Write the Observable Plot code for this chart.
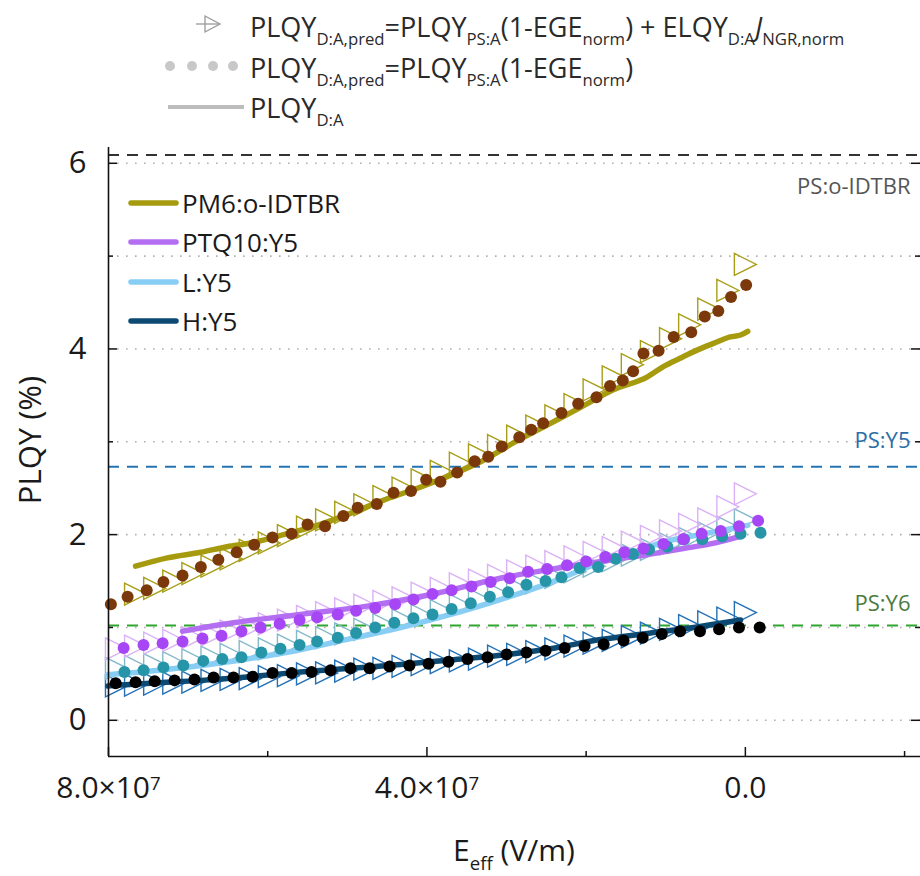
<!DOCTYPE html>
<html>
<head>
<meta charset="utf-8">
<script src="https://cdn.jsdelivr.net/npm/d3@7"></script>
<script src="https://cdn.jsdelivr.net/npm/@observablehq/plot@0.6"></script>
<style>
  body { margin: 0; background: #fff; }
  #chart { width: 920px; height: 876px; overflow: hidden; }
  svg { font-family: "Open Sans", sans-serif; }
</style>
</head>
<body>
<div id="chart"></div>
<script>
// ---- DATA (E_eff in units of 1e7 V/m, PLQY in %) ----
const xTickValues = [8, 4, 0];
const xTickLabels = ["8.0×10^7", "4.0×10^7", "0.0"];
const xMinorTicks = [6, 2, -2];
const yTickValues = [0, 2, 4, 6];
const yMinorTicks = [1, 3, 5];
const gridValues = [0, 1, 2, 3, 4, 5, 6];

const refNames = ["PS:o-IDTBR", "PS:Y5", "PS:Y6"];
const refValues = [6.09, 2.73, 1.02];

const seriesNames = ["PM6:o-IDTBR", "PTQ10:Y5", "L:Y5", "H:Y5"];

// PM6:o-IDTBR
const pm6LineE = [7.66,7.26,6.84,6.51,6.22,5.80,5.38,4.96,4.55,4.12,3.70,3.29,2.91,2.49,2.07,1.66,1.23,1.03,0.82,0.60,0.40,0.19,0.06,-0.03];
const pm6LineP = [1.66,1.75,1.81,1.87,1.91,2.00,2.10,2.23,2.37,2.50,2.64,2.80,2.99,3.18,3.37,3.56,3.70,3.81,3.90,3.99,4.06,4.13,4.15,4.19];
const pm6DotE = [7.97,7.76,7.52,7.31,7.07,6.84,6.62,6.39,6.17,5.94,5.70,5.50,5.28,5.05,4.87,4.63,4.42,4.20,4.01,3.83,3.62,3.40,3.23,3.06,2.84,2.69,2.54,2.31,2.10,1.87,1.70,1.54,1.41,1.28,1.09,0.90,0.68,0.51,0.34,0.18,-0.01];
const pm6DotP = [1.25,1.33,1.40,1.49,1.56,1.65,1.73,1.81,1.89,1.97,2.01,2.11,2.09,2.20,2.29,2.33,2.45,2.47,2.59,2.57,2.67,2.79,2.84,2.95,3.05,3.13,3.20,3.31,3.41,3.48,3.60,3.66,3.76,3.95,3.98,4.13,4.18,4.35,4.41,4.56,4.69];
const pm6TriE = [7.66,7.42,7.18,6.94,6.70,6.46,6.22,5.98,5.74,5.50,5.26,5.02,4.78,4.54,4.30,4.06,3.82,3.58,3.34,3.10,2.86,2.62,2.38,2.14,1.90,1.66,1.42,1.18,0.94,0.70,0.46,0.22,0.00];
const pm6TriP = [1.36,1.42,1.50,1.58,1.66,1.74,1.83,1.91,1.99,2.08,2.16,2.24,2.32,2.41,2.50,2.59,2.68,2.77,2.86,2.96,3.06,3.17,3.28,3.40,3.56,3.70,3.83,3.97,4.11,4.26,4.43,4.63,4.91];

// PTQ10:Y5
const ptqLineE = [7.07,6.43,5.59,4.75,3.92,3.08,2.49,1.82,1.19,0.78,0.44,0.03];
const ptqLineP = [0.96,1.05,1.14,1.23,1.36,1.53,1.62,1.71,1.79,1.85,1.90,1.99];
const ptqDotE = [7.81,7.56,7.32,7.07,6.82,6.58,6.33,6.09,5.85,5.60,5.38,5.12,4.89,4.65,4.40,4.17,3.93,3.69,3.44,3.20,2.96,2.73,2.49,2.24,2.00,1.76,1.52,1.28,1.03,0.78,0.55,0.31,0.08,-0.16];
const ptqDotP = [0.78,0.81,0.83,0.85,0.88,0.91,0.96,1.00,1.04,1.08,1.11,1.14,1.18,1.21,1.25,1.30,1.36,1.40,1.44,1.49,1.53,1.60,1.63,1.67,1.71,1.76,1.81,1.85,1.90,1.95,2.01,2.04,2.09,2.15];
const triE = [7.90,7.66,7.42,7.18,6.94,6.70,6.46,6.22,5.98,5.74,5.50,5.26,5.02,4.78,4.54,4.30,4.06,3.82,3.58,3.34,3.10,2.86,2.62,2.38,2.14,1.90,1.66,1.42,1.18,0.94,0.70,0.46,0.22,0.00];
const ptqTriP = [0.77,0.80,0.83,0.86,0.89,0.92,0.96,1.00,1.04,1.08,1.12,1.16,1.20,1.24,1.28,1.32,1.37,1.42,1.47,1.51,1.56,1.61,1.66,1.71,1.76,1.81,1.86,1.92,1.98,2.04,2.11,2.17,2.30,2.44];

// L:Y5
const lLineE = [8.01,7.47,6.84,6.34,5.59,4.96,4.33,3.70,3.08,2.49,1.82,1.44,1.03,0.57,-0.03];
const lLineP = [0.49,0.53,0.59,0.65,0.76,0.88,1.00,1.14,1.30,1.47,1.70,1.80,1.92,2.00,2.10];
const lDotE = [7.80,7.56,7.31,7.06,6.81,6.57,6.33,6.08,5.84,5.60,5.38,5.12,4.89,4.65,4.41,4.17,3.93,3.69,3.45,3.21,2.98,2.75,2.51,2.31,2.08,1.85,1.63,1.41,1.21,0.98,0.77,0.54,0.29,0.06,-0.19];
const lDotP = [0.52,0.54,0.57,0.59,0.64,0.66,0.68,0.73,0.77,0.81,0.85,0.89,0.94,1.00,1.05,1.10,1.14,1.20,1.26,1.33,1.38,1.46,1.50,1.54,1.64,1.65,1.74,1.79,1.84,1.87,1.95,1.95,1.98,2.01,2.02];
const lTriP = [0.56,0.58,0.60,0.62,0.65,0.68,0.71,0.74,0.77,0.81,0.85,0.89,0.93,0.98,1.03,1.08,1.13,1.18,1.24,1.30,1.36,1.42,1.48,1.54,1.60,1.66,1.72,1.78,1.84,1.90,1.96,2.02,2.08,2.16];

// H:Y5
const hLineE = [8.01,7.47,6.84,6.22,5.59,4.96,4.33,3.70,3.08,2.45,1.82,1.19,0.57,0.06];
const hLineP = [0.37,0.40,0.43,0.47,0.52,0.56,0.60,0.65,0.70,0.77,0.87,0.94,1.01,1.08];
const hDotE = [7.91,7.66,7.42,7.17,6.92,6.68,6.43,6.19,5.94,5.70,5.45,5.21,4.96,4.72,4.47,4.22,3.98,3.73,3.49,3.24,3.00,2.75,2.51,2.27,2.02,1.78,1.53,1.29,1.05,0.82,0.57,0.33,0.08,-0.18];
const hDotP = [0.40,0.41,0.42,0.43,0.44,0.46,0.46,0.47,0.51,0.51,0.52,0.54,0.56,0.56,0.58,0.59,0.61,0.63,0.66,0.68,0.71,0.73,0.75,0.78,0.80,0.82,0.86,0.89,0.93,0.96,0.96,0.98,1.00,1.00];
const hTriP = [0.37,0.38,0.39,0.40,0.41,0.43,0.44,0.45,0.47,0.48,0.50,0.51,0.53,0.55,0.56,0.58,0.60,0.62,0.64,0.66,0.69,0.71,0.74,0.77,0.80,0.83,0.86,0.90,0.94,0.98,1.02,1.06,1.10,1.16];

// ---- STYLES ----
const lineColors = ["#a69b0e", "#b36ef2", "#88cdf4", "#0c4a74"];
const dotColors = ["#7a380b", "#a646f4", "#2795a8", "#000000"];
const triColors = ["#a89e18", "#dcb2f6", "#84b9c9", "#2471b6"];
const refColors = ["#333333", "#2474b4", "#2fa62f"];
const refLabelColors = ["#555555", "#2b6ea6", "#4b7b3e"];
const refLabelDy = [32, -26, -22];

const W = 920, H = 876, mL = 108, mR = 0, mT = 147, mB = 120;
const frameW = W - mL - mR, frameH = H - mT - mB;

function pts(E, P) { return E.map((e, i) => ({E: e, P: P[i]})); }

const lineData = [pts(pm6LineE, pm6LineP), pts(ptqLineE, ptqLineP), pts(lLineE, lLineP), pts(hLineE, hLineP)];
const dotData = [pts(pm6DotE, pm6DotP), pts(ptqDotE, ptqDotP), pts(lDotE, lDotP), pts(hDotE, hDotP)];
const triData = [pts(pm6TriE, pm6TriP), pts(triE, ptqTriP), pts(triE, lTriP), pts(triE, hTriP)];
const refRows = refNames.map((n, i) => ({name: n, v: refValues[i]}));

const triSymbol = {
  draw(ctx, size) {
    const r = Math.sqrt(size / Math.PI);
    ctx.moveTo(-r, -r);
    ctx.lineTo(r, 0);
    ctx.lineTo(-r, r);
    ctx.closePath();
  }
};

const marks = [];
// dotted grid
marks.push(Plot.ruleY(gridValues, {y: d => d, stroke: "#b0b0b0", strokeWidth: 1.6, strokeDasharray: "1.6,7.4"}));
// reference dashed lines + labels
refRows.forEach((r, i) => {
  marks.push(Plot.ruleY([r], {y: "v", stroke: refColors[i], strokeWidth: 2, strokeDasharray: "11,8"}));
  marks.push(Plot.text([r], {y: "v", text: "name", frameAnchor: "right", textAnchor: "end", dx: -10, dy: refLabelDy[i], fill: refLabelColors[i], fontSize: 22}));
});
// triangles
[3, 2, 1, 0].forEach(i => {
  marks.push(Plot.dot(triData[i], {x: "E", y: "P", symbol: triSymbol, r: 11, fill: "none", stroke: triColors[i], strokeWidth: 1.4}));
});
// measured lines
[3, 2, 1, 0].forEach(i => {
  marks.push(Plot.line(lineData[i], {x: "E", y: "P", stroke: lineColors[i], strokeWidth: 5.5, curve: "monotone-x"}));
});
// predicted dots
[3, 2, 1, 0].forEach(i => {
  marks.push(Plot.dot(dotData[i], {x: "E", y: "P", r: 6, fill: dotColors[i], stroke: "none"}));
});
// spines
marks.push(Plot.ruleX([8], {x: d => d, stroke: "#111", strokeWidth: 1.6}));
marks.push(Plot.ruleY([-0.39], {y: d => d, stroke: "#111", strokeWidth: 1.6}));
// inward ticks
marks.push(Plot.tickX(xTickValues, {x: d => d, insetTop: frameH - 9, stroke: "#111", strokeWidth: 1.5}));
marks.push(Plot.tickX(xMinorTicks, {x: d => d, insetTop: frameH - 5, stroke: "#111", strokeWidth: 1.5}));
marks.push(Plot.tickY(yTickValues, {y: d => d, insetRight: frameW - 9, stroke: "#111", strokeWidth: 1.5}));
marks.push(Plot.tickY(yMinorTicks, {y: d => d, insetRight: frameW - 5, stroke: "#111", strokeWidth: 1.5}));
marks.push(Plot.tickY(yTickValues, {y: d => d, insetLeft: frameW - 9, stroke: "#111", strokeWidth: 1.5}));
marks.push(Plot.tickY(yMinorTicks, {y: d => d, insetLeft: frameW - 5, stroke: "#111", strokeWidth: 1.5}));
// axis labels
marks.push(Plot.axisX(xTickValues, {anchor: "bottom", tickSize: 0, tickPadding: 20, fontSize: 30, label: null,
  tickFormat: d => xTickLabels[xTickValues.indexOf(d)]}));
marks.push(Plot.axisY(yTickValues, {anchor: "left", tickSize: 0, tickPadding: 22, fontSize: 31, label: null, tickFormat: d => String(d)}));

const chart = Plot.plot({
  width: W, height: H,
  marginLeft: mL, marginRight: mR, marginTop: mT, marginBottom: mB,
  x: {domain: [8, -2.2]},
  y: {domain: [-0.39, 6.17]},
  style: {fontFamily: "Open Sans, sans-serif", color: "#1a1a1a", background: "#fff", overflow: "visible"},
  marks
});
document.getElementById("chart").appendChild(chart);

const svg = d3.select(chart);

// superscript exponent in tick labels
svg.selectAll("text").each(function () {
  const s = this.textContent;
  if (s.includes("^")) {
    const [a, b] = s.split("^");
    const t = d3.select(this);
    t.text(a);
    t.append("tspan").attr("dy", "-0.42em").attr("font-size", "0.62em").text(b);
  }
});

// helper for rich text with subscripts
function rich(x, y, size, parts, fill, anchor) {
  const t = svg.append("text").attr("x", x).attr("y", y).attr("font-size", size)
    .attr("fill", fill || "#1a1a1a").attr("text-anchor", anchor || "start");
  let shifted = 0;
  parts.forEach(p => {
    const [str, kind] = p;
    const ts = t.append("tspan").text(str);
    const want = kind === "sub" ? size * 0.3 : 0;
    if (want !== shifted) { ts.attr("dy", want - shifted); shifted = want; }
    if (kind === "sub") ts.attr("font-size", size * 0.62);
    if (kind === "it") ts.attr("font-style", "italic");
  });
  return t;
}

// axis titles
rich(514, 861, 30, [["E"], ["eff", "sub"], [" (V/m)"]], "#1a1a1a", "middle");
svg.append("text").attr("transform", "translate(41,440) rotate(-90)").attr("text-anchor", "middle")
  .attr("font-size", 31).attr("fill", "#1a1a1a").text("PLQY (%)");

// top legend
const gray = "#bdbdbd";
svg.append("line").attr("x1", 196).attr("x2", 219).attr("y1", 24).attr("y2", 24).attr("stroke", "#999").attr("stroke-width", 1.3);
svg.append("path").attr("d", "M205,16 L220,24 L205,32 Z").attr("fill", "none").attr("stroke", "#999").attr("stroke-width", 1.3);
[170, 192, 213, 233].forEach(cx => svg.append("circle").attr("cx", cx).attr("cy", 66).attr("r", 5).attr("fill", "#c8c8c8"));
svg.append("line").attr("x1", 168).attr("x2", 244).attr("y1", 107).attr("y2", 107).attr("stroke", gray).attr("stroke-width", 4);

const legSize = 27;
rich(250, 37, legSize, [["PLQY"], ["D:A,pred", "sub"], ["=PLQY"], ["PS:A", "sub"], ["(1-EGE"], ["norm", "sub"], [") + ELQY"], ["D:A", "sub"], ["J", "it"], ["NGR,norm", "sub"]], "#2a2a2a");
rich(250, 78, legSize, [["PLQY"], ["D:A,pred", "sub"], ["=PLQY"], ["PS:A", "sub"], ["(1-EGE"], ["norm", "sub"], [")"]], "#2a2a2a");
rich(250, 118, legSize, [["PLQY"], ["D:A", "sub"]], "#2a2a2a");

// series legend inside the frame
const legY = [203, 242, 282, 321];
seriesNames.forEach((n, i) => {
  svg.append("line").attr("x1", 131).attr("x2", 176).attr("y1", legY[i]).attr("y2", legY[i])
    .attr("stroke", lineColors[i]).attr("stroke-width", 5.5).attr("stroke-linecap", "round");
  svg.append("text").attr("x", 182).attr("y", legY[i] + 10).attr("font-size", 26)
    .attr("text-anchor", "start").attr("fill", "#1a1a1a").text(n);
});
</script>
</body>
</html>
